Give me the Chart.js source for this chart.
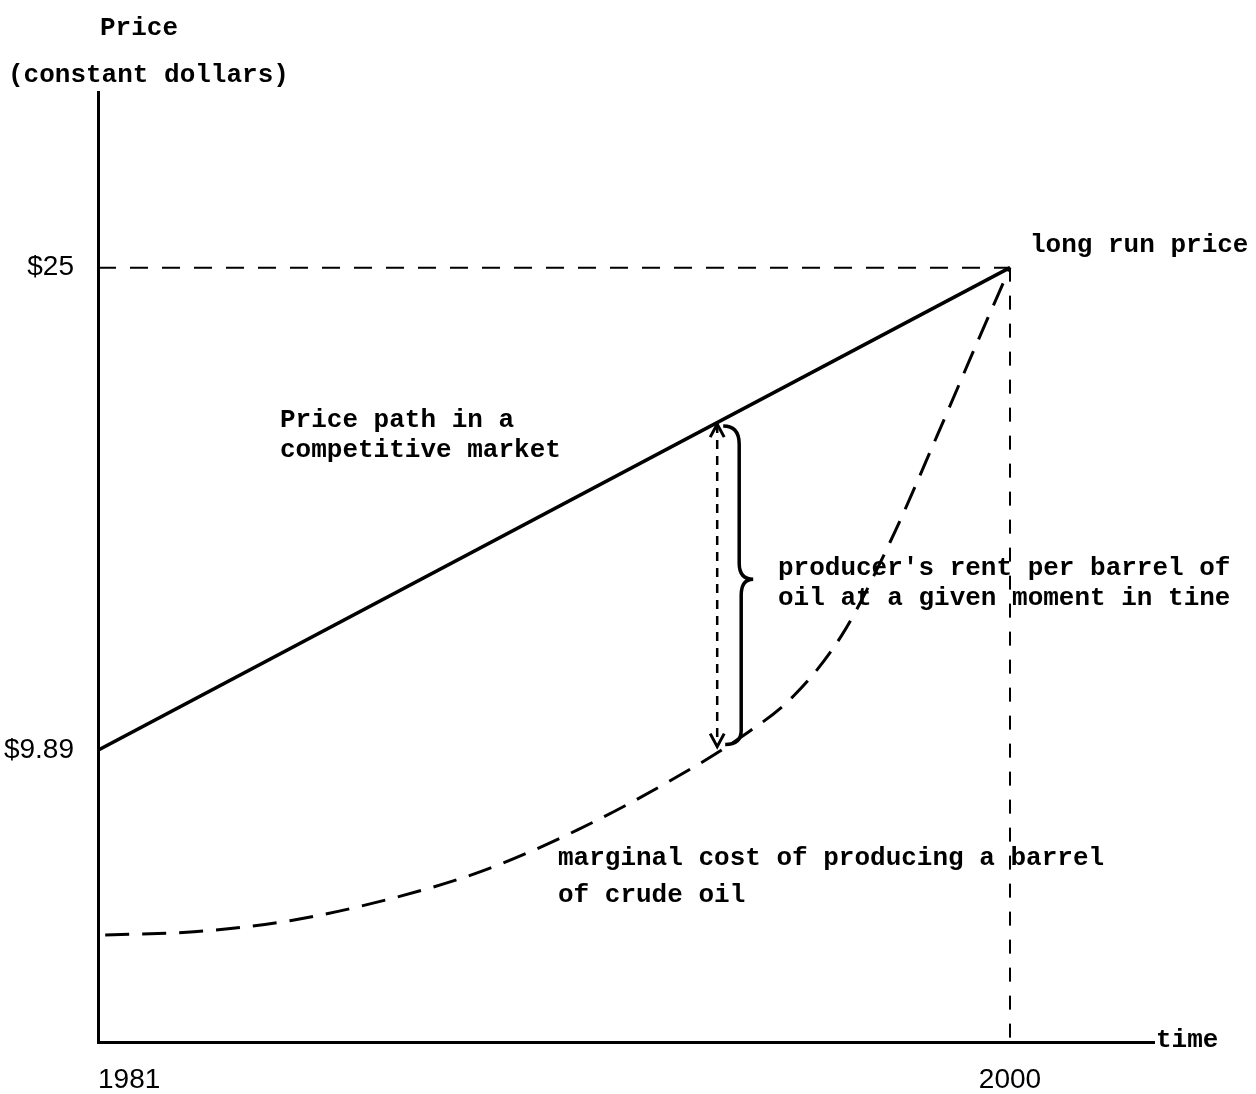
<!DOCTYPE html>
<html>
<head>
<meta charset="utf-8">
<script src="https://cdn.jsdelivr.net/npm/chart.js@4.4.0/dist/chart.umd.min.js"></script>
<style>
  body { margin: 0; background: #fff; }
  #wrap { width: 1256px; height: 1094px; }
</style>
</head>
<body>
<div id="wrap"><canvas id="myChart" width="1256" height="1094"></canvas></div>
<script>
// time axis
const xTicks = [1981, 2000];
const xTickLabels = ['1981', '2000'];
// price axis (constant dollars)
const priceTicks = [9.89, 25];
const priceTickLabels = ['$9.89', '$25'];

// price path in a competitive market (straight line)
const pathYears = [1981, 2000];
const pathPrices = [9.89, 25];

// marginal cost of producing a barrel of crude oil
const costYears = [1981.15, 1983, 1985, 1987, 1989, 1991, 1993, 1994.4, 1995.5, 1996.5, 1997.5, 1998.5, 1999.3, 2000];
const costPrices = [4.1, 4.2, 4.55, 5.2, 6.1, 7.4, 9.0, 10.3, 11.6, 13.5, 16.4, 19.8, 22.6, 25];

// long run price and axis range
const longRunYear = 2000;
const longRunPrice = 25;
const yMin = 0.75;
const yMax = 30.5;
const xMin = 1981;
const xMax = 2003;

// producer's rent at a given moment
const rentYear = 1993.9;
const rentTop = 20.1;
const rentBottom = 10.0;

const toPts = (xs, ys) => xs.map((v, i) => ({ x: v, y: ys[i] }));

const mono = 'bold 26px "Liberation Mono", "Courier New", monospace';
const sans = '28px "Liberation Sans", Arial, sans-serif';

// texte, flèches et accolade
const notes = {
    id: 'notes',
    afterDatasetsDraw(chart) {
        const ctx = chart.ctx;
        const xs = chart.scales.x, ys = chart.scales.y;
        const area = chart.chartArea;
        ctx.save();
        ctx.strokeStyle = '#000';
        ctx.fillStyle = '#000';
        ctx.setLineDash([]);

        // arrow heads
        const ax = xs.getPixelForValue(rentYear);
        const at = ys.getPixelForValue(rentTop);
        const ab = ys.getPixelForValue(rentBottom);
        ctx.lineWidth = 3;
        ctx.beginPath();
        ctx.moveTo(ax - 7, at + 13); ctx.lineTo(ax, at); ctx.lineTo(ax + 7, at + 13);
        ctx.moveTo(ax - 7, ab - 13); ctx.lineTo(ax, ab); ctx.lineTo(ax + 7, ab - 13);
        ctx.stroke();

        // brace
        const bx = ax + 22;
        const top = at + 2, bot = ab - 2;
        const mid = (top + bot) / 2 - 6;
        ctx.lineWidth = 3.5;
        ctx.beginPath();
        ctx.moveTo(bx - 16, top);
        ctx.quadraticCurveTo(bx, top, bx, top + 18);
        ctx.lineTo(bx, mid - 16);
        ctx.quadraticCurveTo(bx, mid, bx + 14, mid);
        ctx.quadraticCurveTo(bx + 2, mid, bx + 2, mid + 16);
        ctx.lineTo(bx + 2, bot - 14);
        ctx.quadraticCurveTo(bx + 2, bot, bx - 14, bot);
        ctx.stroke();

        // x labels
        ctx.font = sans;
        ctx.textBaseline = 'middle';
        xTicks.forEach((v, i) => {
            ctx.textAlign = i === 0 ? 'left' : 'center';
            ctx.fillText(xTickLabels[i], xs.getPixelForValue(v), 1080);
        });

        // annotations
        ctx.font = mono;
        ctx.textAlign = 'left';
        ctx.fillText('Price', 100, 28);
        ctx.fillText('(constant dollars)', 8, 75);
        ctx.fillText('long run price', 1030, 245);
        ctx.fillText('Price path in a', 280, 420);
        ctx.fillText('competitive market', 280, 450);
        ctx.fillText("producer's rent per barrel of", 778, 568);
        ctx.fillText('oil at a given moment in tine', 778, 598);
        ctx.fillText('marginal cost of producing a barrel', 558, 858);
        ctx.fillText('of crude oil', 558, 895);
        ctx.fillText('time', area.right + 2, area.bottom - 2);
        ctx.restore();
    }
};

new Chart(document.getElementById('myChart').getContext('2d'), {
    type: 'scatter',
    data: {
        datasets: [{
            label: 'Price path',
            data: toPts(pathYears, pathPrices),
            showLine: true,
            borderColor: '#000',
            borderWidth: 3.5,
            pointRadius: 0
        },
        {
            label: 'Marginal cost',
            data: toPts(costYears, costPrices),
            showLine: true,
            cubicInterpolationMode: 'monotone',
            borderColor: '#000',
            borderWidth: 3,
            borderDash: [24, 13],
            pointRadius: 0
        },
        {
            label: 'Long run price',
            data: toPts([xMin, longRunYear], [longRunPrice, longRunPrice]),
            showLine: true,
            borderColor: '#000',
            borderWidth: 2,
            borderDash: [18, 14],
            pointRadius: 0
        },
        {
            label: '2000',
            data: toPts([longRunYear, longRunYear], [longRunPrice, yMin]),
            showLine: true,
            borderColor: '#000',
            borderWidth: 2,
            borderDash: [14, 14],
            pointRadius: 0
        },
        {
            label: 'Rent',
            data: toPts([rentYear, rentYear], [rentTop, rentBottom]),
            showLine: true,
            borderColor: '#000',
            borderWidth: 2.5,
            borderDash: [9, 7],
            pointRadius: 0
        }]
    },
    options: {
        responsive: false,
        animation: false,
        devicePixelRatio: 1,
        layout: { padding: { top: 92, right: 102, left: 0, bottom: 0 } },
        plugins: {
            legend: { display: false },
            tooltip: { enabled: false }
        },
        scales: {
            x: {
                type: 'linear',
                min: xMin,
                max: xMax,
                grid: { display: false },
                border: { display: true, color: '#000', width: 3 },
                ticks: { display: false },
                afterFit: (s) => { s.height = 52; }
            },
            y: {
                type: 'linear',
                min: yMin,
                max: yMax,
                grid: { display: false },
                border: { display: true, color: '#000', width: 3 },
                afterBuildTicks: (s) => { s.ticks = priceTicks.map(v => ({ value: v })); },
                ticks: {
                    color: '#000',
                    font: { family: '"Liberation Sans", Arial, sans-serif', size: 28 },
                    padding: 16,
                    callback: (v) => priceTickLabels[priceTicks.indexOf(v)]
                },
                afterFit: (s) => { s.width = 98; }
            }
        }
    },
    plugins: [notes]
});
</script>
</body>
</html>
